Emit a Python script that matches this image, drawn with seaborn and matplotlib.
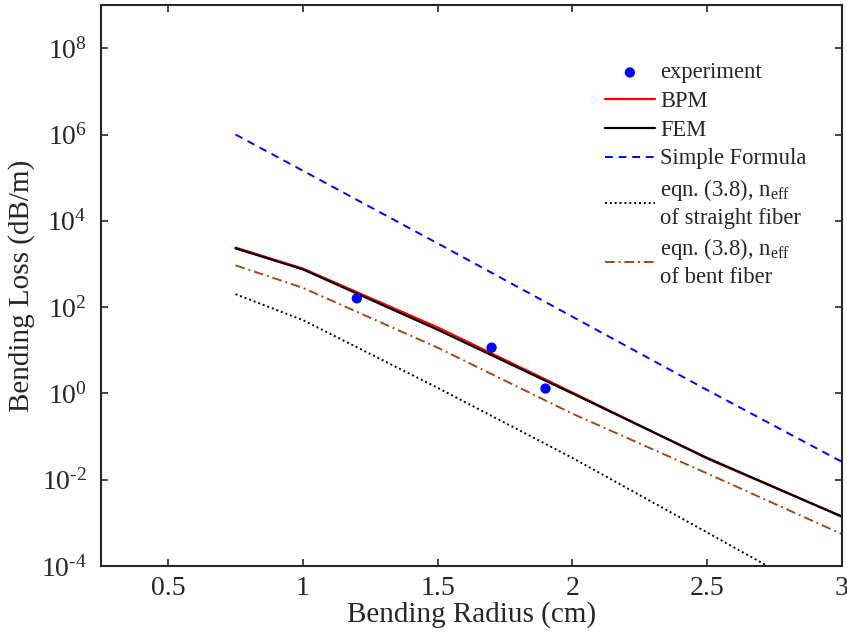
import numpy as np
import matplotlib
matplotlib.use("Agg")
import matplotlib.pyplot as plt
import pandas as pd
import seaborn as sns

# bending radius (cm) and loss (dB/m)
radius = [0.75, 1.0, 1.5, 2.0, 2.5, 3.0]
loss_bpm = [2.4e3, 7.8e2, 34, 1.05, 0.031, 1.4e-3]
loss_fem = [2.3e3, 7.5e2, 30, 1.0, 0.032, 1.4e-3]
loss_simple = [1.0e6, 1.45e5, 3.0e3, 6.0e1, 1.2, 2.6e-2]
loss_straight = [2.0e2, 5.0e1, 1.35, 3.2e-2, 6.0e-4, 1.1e-5]
loss_bent = [9.3e2, 2.8e2, 11.5, 0.34, 0.014, 5.5e-4]

exp_radius = [1.2, 1.7, 1.9]
exp_loss = [160, 11.5, 1.3]

xtick_vals = [0.5, 1, 1.5, 2, 2.5, 3]
xtick_labels = ["0.5", "1", "1.5", "2", "2.5", "3"]
ytick_exps = [-4, -2, 0, 2, 4, 6, 8]

####figure settings####
sns.set_style("ticks")
plt.rcParams["font.family"] = ["Liberation Serif", "DejaVu Serif"]
plt.rcParams["mathtext.fontset"] = "custom"
plt.rcParams["mathtext.rm"] = "Liberation Serif"
plt.rcParams["mathtext.it"] = "Liberation Serif:italic"
plt.rcParams["axes.linewidth"] = 1.5
plt.rcParams["xtick.direction"] = "in"
plt.rcParams["ytick.direction"] = "in"
plt.rcParams["xtick.major.width"] = 1.2
plt.rcParams["ytick.major.width"] = 1.2
plt.rcParams["xtick.major.size"] = 5
plt.rcParams["ytick.major.size"] = 5
plt.rcParams["xtick.labelsize"] = 20
plt.rcParams["ytick.labelsize"] = 20
#######################

fig = plt.figure(figsize=(8.47, 6.36), dpi=100)
ax = fig.add_axes([0.119, 0.110, 0.875, 0.882])

sns.scatterplot(x=exp_radius, y=exp_loss, color="#0000ff", s=55, marker="o",
                edgecolor="none", label="experiment", ax=ax, zorder=5)
sns.lineplot(x=radius, y=loss_bpm, color="#ff0000", lw=1.6, label="BPM", ax=ax)
sns.lineplot(x=radius, y=loss_fem, color="black", lw=1.6, label="FEM", ax=ax)
sns.lineplot(x=radius, y=loss_simple, color="#0000ff", lw=1.4, label="Simple Formula", ax=ax)
sns.lineplot(x=radius, y=loss_straight, color="black", lw=1.4,
             label="eqn. (3.8), n$_{\\rm eff}$\nof straight fiber", ax=ax)
sns.lineplot(x=radius, y=loss_bent, color="#a04a1a", lw=1.4,
             label="eqn. (3.8), n$_{\\rm eff}$\nof bent fiber", ax=ax)

lines = ax.get_lines()
lines[2].set_dashes([4, 3])
lines[3].set_dashes([1, 1.5])
lines[4].set_dashes([5, 2, 1, 2])

ax.set_yscale("log")
ax.set_xlim(0.25, 3)
ax.set_ylim(1e-4, 1e9)
ax.set_xticks(xtick_vals)
ax.set_xticklabels(xtick_labels)
ax.set_yticks([10.0 ** e for e in ytick_exps])
ax.set_yticklabels(["10$^{\\text{%d}}$" % e for e in ytick_exps])
ax.yaxis.set_minor_locator(matplotlib.ticker.NullLocator())
ax.tick_params(top=True, right=True)
ax.tick_params(axis="y", pad=10)
ax.tick_params(axis="x", pad=7)
for s in ax.spines.values():
    s.set_visible(True)

ax.set_xlabel("Bending Radius (cm)", fontsize=21, labelpad=0)
ax.set_ylabel("Bending Loss (dB/m)", fontsize=21, labelpad=4)

leg = ax.legend(loc="upper left", bbox_to_anchor=(0.665, 0.918), frameon=False,
                fontsize=16.3, handlelength=2.2, handletextpad=0.25,
                labelspacing=0.34, borderpad=0)
for t in leg.get_texts():
    t.set_linespacing(1.28)

plt.savefig("out.png", dpi=100)
